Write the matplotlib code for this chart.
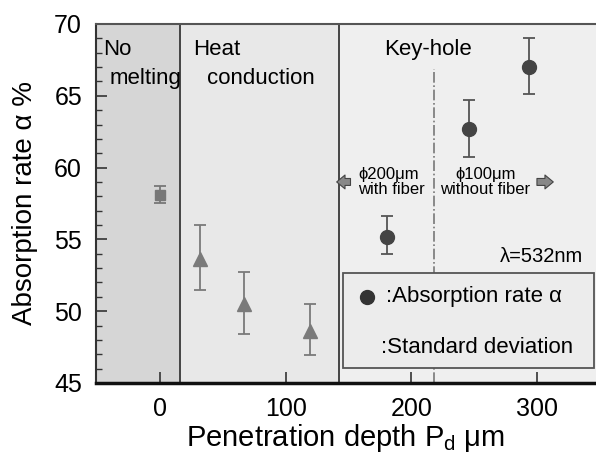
import numpy as np
import matplotlib
matplotlib.use('Agg')
import matplotlib.pyplot as plt
from matplotlib.patches import Rectangle
from matplotlib.ticker import MultipleLocator

plt.rcParams['font.family'] = ['Liberation Sans', 'DejaVu Sans']
plt.rcParams['mathtext.fontset'] = 'custom'
plt.rcParams['mathtext.rm'] = 'Liberation Sans'

# No melting (square marker)
sq_x = [0]
sq_y = [58.1]
sq_lo = [57.5]
sq_hi = [58.7]

# Heat conduction (triangles)
tri_x = [32, 67, 119]
tri_y = [53.6, 50.5, 48.6]
tri_lo = [51.5, 48.4, 46.95]
tri_hi = [56.0, 52.75, 50.5]

# Key-hole (circles)
cir_x = [181, 246, 294]
cir_y = [55.2, 62.7, 67.0]
cir_lo = [54.0, 60.75, 65.1]
cir_hi = [56.6, 64.7, 69.05]

# region borders
b_melt = 16
b_heat = 142.6
b_fiber = 218

fig = plt.figure(figsize=(5.96, 4.58), dpi=100)
ax = fig.add_axes([0.161, 0.1638, 0.839, 0.7838])
ax.set_xlim(-51, 347)
ax.set_ylim(45, 70)

# shaded regions
ax.axvspan(-51, b_melt, color='#d6d6d6', zorder=0, lw=0)
ax.axvspan(b_melt, b_heat, color='#e8e8e8', zorder=0, lw=0)
ax.axvspan(b_heat, 347, color='#efefef', zorder=0, lw=0)
ax.axvline(b_melt, color='#444444', lw=1.4, zorder=1)
ax.axvline(b_heat, color='#444444', lw=1.4, zorder=1)
ax.plot([b_fiber, b_fiber], [45, 66.9], color='#777777', lw=1.2, ls='-.', zorder=1)

def err(y, lo, hi):
    y = np.array(y); return [y - np.array(lo), np.array(hi) - y]

ax.errorbar(sq_x, sq_y, yerr=err(sq_y, sq_lo, sq_hi), fmt='s', ms=7, color='#777777',
            ecolor='#777777', elinewidth=1.3, capsize=4, capthick=1.3, zorder=3)
ax.errorbar(tri_x, tri_y, yerr=err(tri_y, tri_lo, tri_hi), fmt='^', ms=10, color='#7a7a7a',
            ecolor='#7a7a7a', elinewidth=1.3, capsize=4, capthick=1.3, zorder=3)
ax.errorbar(cir_x, cir_y, yerr=err(cir_y, cir_lo, cir_hi), fmt='o', ms=10, color='#444444',
            ecolor='#555555', elinewidth=1.3, capsize=4, capthick=1.3, zorder=3)

# region labels
ax.text(-45, 68.2, 'No', fontsize=16, va='center', ha='left')
ax.text(-40.5, 66.2, 'melting', fontsize=16, va='center', ha='left')
ax.text(26, 68.2, 'Heat', fontsize=16, va='center', ha='left')
ax.text(37, 66.2, 'conduction', fontsize=16, va='center', ha='left')
ax.text(213, 68.2, 'Key-hole', fontsize=16, va='center', ha='center')
ax.text(157.5, 59.0, 'ϕ200μm\nwith fiber', fontsize=12, va='center', ha='left', linespacing=1.0)
ax.text(259, 59.0, 'ϕ100μm\nwithout fiber', fontsize=12, va='center', ha='center', linespacing=1.0)
ax.text(337, 53.8, 'λ=532nm', fontsize=14.5, va='center', ha='right')

# arrows
arrow = dict(arrowstyle='simple,head_width=1.0,head_length=0.6,tail_width=0.5',
             fc='#888888', ec='#444444', lw=0.8, shrinkA=0, shrinkB=0)
ax.annotate('', xy=(b_heat - 2, 59.0), xytext=(b_heat + 9, 59.0), arrowprops=arrow)
ax.annotate('', xy=(313, 59.0), xytext=(300, 59.0), arrowprops=arrow)

# legend box
ax.add_patch(Rectangle((146, 46.05), 199.5, 6.6, fc='#ececec', ec='#555555', lw=1.3, zorder=4))
ax.plot([164.7], [51.0], 'o', ms=10, color='#333333', zorder=5)
ax.text(180, 51.0, ':Absorption rate α', fontsize=16, va='center', ha='left', zorder=5)
ax.text(176, 47.5, ':Standard deviation', fontsize=16, va='center', ha='left', zorder=5)

# axes styling
ax.spines['right'].set_visible(False)
ax.spines['top'].set_color('#555555')
ax.spines['top'].set_linewidth(1.5)
ax.spines['left'].set_color('#333333')
ax.spines['left'].set_linewidth(1.5)
ax.spines['bottom'].set_color('#111111')
ax.spines['bottom'].set_linewidth(2.5)
for s in ax.spines.values():
    s.set_zorder(6)

ax.set_xticks([0, 100, 200, 300])
ax.set_yticks([45, 50, 55, 60, 65, 70])
ax.yaxis.set_minor_locator(MultipleLocator(1))
ax.tick_params(axis='both', which='major', direction='in', length=8, width=1.2,
               labelsize=18, pad=10, color='#333333')
ax.tick_params(axis='y', which='minor', direction='in', length=4, width=1.0, color='#333333')
ax.tick_params(top=False, right=False)

ax.set_ylabel('Absorption rate α %', fontsize=20, labelpad=12)
ax.set_xlabel('Penetration depth P$_{\\mathregular{d}}$ μm', fontsize=21, labelpad=1)

fig.savefig('out.png', dpi=100)
